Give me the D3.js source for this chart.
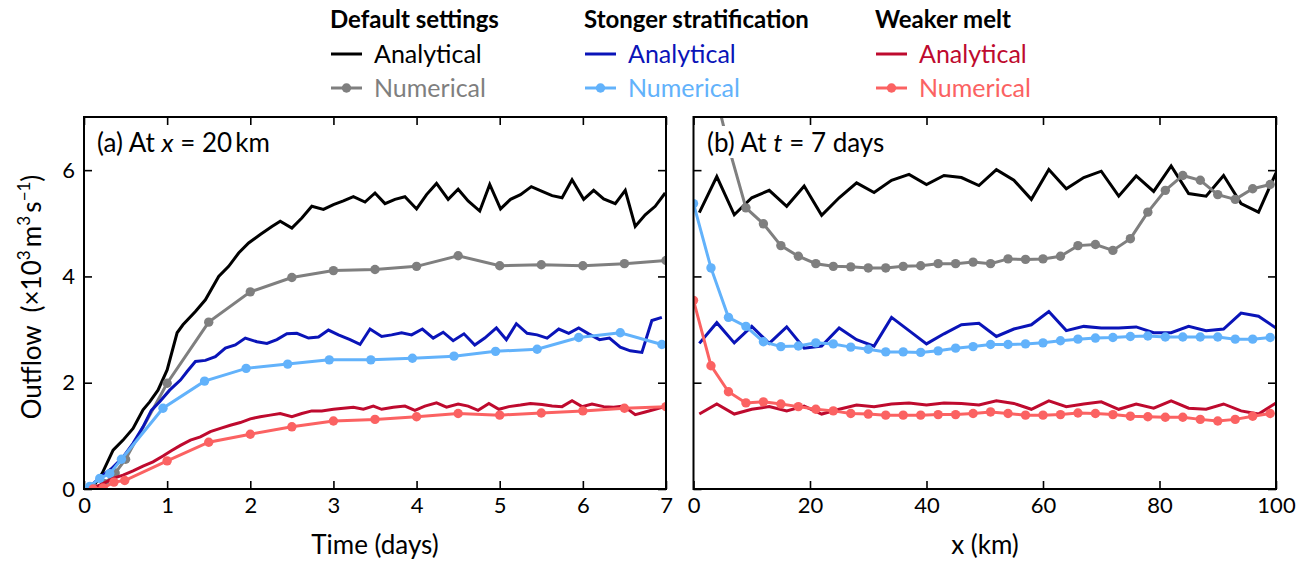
<!DOCTYPE html>
<html lang="en">
<head>
<meta charset="UTF-8">
<title>Outflow</title>
<script src="https://d3js.org/d3.v7.min.js"></script>
<style>
  body { margin: 0; background: #fff; }
  svg { font-family: Lato, "Noto Sans", sans-serif; }
</style>
</head>
<body>
<svg width="1306" height="561"></svg>
<script>
// ---- data: panel (a) at x = 20 km, time in days ----
var blackA = [[0.1,0.02],[0.22,0.3],[0.35,0.73],[0.47,0.92],[0.59,1.14],[0.71,1.49],[0.79,1.64],[0.89,1.86],[1.0,2.24],[1.12,2.94],[1.19,3.09],[1.34,3.34],[1.46,3.56],[1.62,4.0],[1.74,4.19],[1.86,4.44],[1.98,4.63],[2.12,4.79],[2.26,4.94],[2.36,5.04],[2.5,4.91],[2.62,5.1],[2.74,5.32],[2.88,5.26],[3.0,5.35],[3.12,5.42],[3.24,5.5],[3.38,5.4],[3.5,5.57],[3.62,5.37],[3.74,5.45],[3.86,5.5],[4.0,5.27],[4.12,5.54],[4.24,5.75],[4.38,5.45],[4.5,5.64],[4.62,5.42],[4.76,5.23],[4.88,5.73],[5.01,5.27],[5.13,5.45],[5.25,5.54],[5.38,5.69],[5.51,5.6],[5.63,5.52],[5.75,5.48],[5.87,5.82],[6.01,5.45],[6.13,5.62],[6.25,5.46],[6.39,5.37],[6.51,5.62],[6.63,4.94],[6.75,5.16],[6.87,5.32],[6.99,5.57]];
var grayA = [[0.125,0.01],[0.25,0.1],[0.375,0.3],[0.5,0.56],[1,1.99],[1.5,3.14],[2,3.71],[2.5,3.98],[3,4.11],[3.5,4.13],[4,4.19],[4.5,4.39],[5,4.2],[5.5,4.22],[6,4.2],[6.5,4.24],[7,4.3]];
var blueA = [[0.11,0.1],[0.22,0.25],[0.33,0.38],[0.47,0.6],[0.59,0.86],[0.71,1.17],[0.81,1.48],[0.91,1.64],[1.03,1.86],[1.16,2.05],[1.24,2.21],[1.34,2.4],[1.46,2.42],[1.58,2.49],[1.7,2.65],[1.82,2.71],[1.94,2.84],[2.08,2.77],[2.2,2.74],[2.32,2.81],[2.44,2.92],[2.56,2.93],[2.7,2.84],[2.82,2.86],[2.94,2.99],[3.06,2.9],[3.2,2.81],[3.32,2.72],[3.44,3.01],[3.58,2.87],[3.7,2.9],[3.82,2.94],[3.94,2.9],[4.07,3.01],[4.2,2.84],[4.32,2.95],[4.44,2.79],[4.57,2.92],[4.7,2.71],[4.82,2.84],[4.96,3.03],[5.08,2.81],[5.2,3.11],[5.33,2.93],[5.45,2.9],[5.57,2.84],[5.71,3.01],[5.83,2.93],[5.95,3.03],[6.07,2.92],[6.2,2.81],[6.32,2.84],[6.45,2.67],[6.57,2.6],[6.71,2.57],[6.83,3.17],[6.95,3.23]];
var lightBlueA = [[0.07,0.05],[0.19,0.2],[0.31,0.29],[0.45,0.56],[0.95,1.52],[1.45,2.03],[1.95,2.27],[2.45,2.35],[2.95,2.43],[3.45,2.43],[3.95,2.46],[4.45,2.5],[4.95,2.59],[5.45,2.63],[5.95,2.85],[6.45,2.94],[6.95,2.72]];
var redA = [[0.11,0.02],[0.23,0.1],[0.35,0.2],[0.47,0.26],[0.59,0.34],[0.71,0.43],[0.83,0.51],[0.95,0.62],[1.05,0.72],[1.16,0.82],[1.28,0.92],[1.4,0.98],[1.52,1.08],[1.64,1.14],[1.76,1.2],[1.88,1.25],[2.0,1.32],[2.12,1.36],[2.24,1.39],[2.36,1.42],[2.5,1.36],[2.62,1.42],[2.74,1.47],[2.86,1.47],[3.0,1.5],[3.12,1.52],[3.24,1.54],[3.36,1.5],[3.48,1.56],[3.58,1.5],[3.72,1.54],[3.86,1.56],[3.98,1.48],[4.1,1.56],[4.24,1.62],[4.36,1.54],[4.5,1.6],[4.62,1.56],[4.74,1.48],[4.87,1.61],[4.99,1.5],[5.11,1.55],[5.25,1.58],[5.37,1.61],[5.51,1.59],[5.63,1.56],[5.75,1.55],[5.87,1.66],[5.99,1.55],[6.11,1.6],[6.25,1.55],[6.37,1.54],[6.49,1.56],[6.63,1.4],[6.75,1.45],[6.87,1.5],[7.0,1.56]];
var lightRedA = [[0.11,0.0],[0.23,0.02],[0.36,0.13],[0.49,0.16],[1.0,0.53],[1.5,0.88],[2.0,1.03],[2.5,1.17],[3.0,1.28],[3.5,1.31],[4.0,1.36],[4.5,1.42],[5.0,1.39],[5.5,1.43],[6.0,1.47],[6.5,1.52],[7.0,1.55]];

// ---- data: panel (b) at t = 7 days, distance in km ----
var kmAnalytical = [1,4,7,10,13,16,19,22,25,28,31,34,37,40,43,46,49,52,55,58,61,64,67,70,73,76,79,82,85,88,91,94,97,100];
var kmNumerical = [0,3,6,9,12,15,18,21,24,27,30,33,36,39,42,45,48,51,54,57,60,63,66,69,72,75,78,81,84,87,90,93,96,99];
var blackB = [5.2,5.88,5.16,5.48,5.62,5.32,5.7,5.15,5.48,5.76,5.58,5.81,5.92,5.73,5.9,5.86,5.71,6.01,5.81,5.45,6.01,5.65,5.86,5.98,5.51,5.89,5.6,6.08,5.56,5.51,5.9,5.37,5.21,5.95];
var grayB = [9.5,7.8,6.45,5.29,4.99,4.58,4.38,4.24,4.19,4.18,4.16,4.16,4.19,4.2,4.24,4.24,4.27,4.24,4.33,4.32,4.33,4.38,4.58,4.6,4.49,4.71,5.21,5.62,5.9,5.81,5.54,5.45,5.65,5.73];
var blueB = [2.74,3.13,2.75,3.06,2.74,3.05,2.65,2.69,3.03,2.81,2.69,3.23,2.98,2.73,2.92,3.09,3.12,2.87,3.01,3.09,3.34,2.98,3.06,3.03,3.03,3.05,2.94,2.94,3.06,2.98,3.01,3.31,3.25,3.03];
var lightBlueB = [5.37,4.16,3.23,3.06,2.77,2.68,2.69,2.75,2.73,2.67,2.63,2.58,2.58,2.57,2.6,2.65,2.68,2.72,2.72,2.73,2.75,2.79,2.82,2.84,2.85,2.87,2.88,2.86,2.86,2.86,2.86,2.82,2.82,2.85];
var redB = [1.41,1.6,1.41,1.5,1.55,1.47,1.56,1.41,1.5,1.58,1.55,1.6,1.62,1.58,1.62,1.61,1.58,1.66,1.61,1.5,1.66,1.55,1.6,1.64,1.5,1.6,1.52,1.66,1.52,1.5,1.6,1.47,1.41,1.62];
var lightRedB = [3.55,2.32,1.83,1.62,1.64,1.6,1.55,1.5,1.47,1.42,1.41,1.39,1.39,1.39,1.4,1.4,1.42,1.45,1.42,1.39,1.39,1.4,1.43,1.42,1.4,1.37,1.36,1.35,1.35,1.31,1.28,1.31,1.37,1.42];

var groups = ['Default settings', 'Stonger stratification', 'Weaker melt'];
var darkColors = ['#000000', '#0a14b8', '#be0a2e'];
var lightColors = ['#7f7f7f', '#62b2fb', '#fb6262'];
var tickLabelsA = [0, 1, 2, 3, 4, 5, 6, 7];
var tickLabelsB = [0, 20, 40, 60, 80, 100];
var yTicks = [0, 2, 4, 6];

var svg = d3.select('svg');
var top_ = 117, bottom = 489;
var y = d3.scaleLinear().domain([0, 7]).range([bottom, top_]);
var xa = d3.scaleLinear().domain([0, 7]).range([84, 666]);
var xb = d3.scaleLinear().domain([0, 100]).range([693.5, 1276]);

function panel(id, x, ticks, showY) {
    var g = svg.append('g');
    var r = x.range();
    svg.append('clipPath').attr('id', id).append('rect')
        .attr('x', r[0]).attr('y', top_).attr('width', r[1] - r[0]).attr('height', bottom - top_);

    var bot = g.append('g').attr('transform', 'translate(0,' + bottom + ')')
        .call(d3.axisBottom(x).tickValues(ticks).tickSizeInner(-8).tickSizeOuter(0).tickPadding(8)
            .tickFormat(d3.format('d')));
    var tp = g.append('g').attr('transform', 'translate(0,' + top_ + ')')
        .call(d3.axisTop(x).tickValues(ticks).tickSizeInner(-8).tickSizeOuter(0).tickFormat(''));
    var lf = g.append('g').attr('transform', 'translate(' + r[0] + ',0)')
        .call(d3.axisLeft(y).tickValues(yTicks).tickSizeInner(-8).tickSizeOuter(0).tickPadding(9)
            .tickFormat(showY ? d3.format('d') : ''));
    var rt = g.append('g').attr('transform', 'translate(' + r[1] + ',0)')
        .call(d3.axisRight(y).tickValues(yTicks).tickSizeInner(-8).tickSizeOuter(0).tickFormat(''));
    [bot, tp, lf, rt].forEach(function (a) {
        a.select('.domain').remove();
        a.selectAll('line').attr('stroke', '#000').attr('stroke-width', 1.6);
        a.selectAll('text').attr('font-size', 22).attr('fill', '#000').attr('font-family', 'Lato, sans-serif');
    });
    var plot = g.append('g').attr('clip-path', 'url(#' + id + ')');
    return { g: g, plot: plot, x: x };
}

function drawLine(p, pts, color) {
    var line = d3.line().x(function (d) { return p.x(d[0]); }).y(function (d) { return y(d[1]); });
    p.plot.append('path').datum(pts).attr('d', line)
        .attr('fill', 'none').attr('stroke', color).attr('stroke-width', 3)
        .attr('stroke-linejoin', 'miter');
}
function drawNum(p, pts, color) {
    drawLine(p, pts, color);
    p.plot.selectAll(null).data(pts).enter().append('circle')
        .attr('cx', function (d) { return p.x(d[0]); })
        .attr('cy', function (d) { return y(d[1]); })
        .attr('r', 4.7).attr('fill', color);
}
function zip(xs, vs) { return xs.map(function (v, i) { return [v, vs[i]]; }); }

var pa = panel('clipA', xa, tickLabelsA, true);
var pb = panel('clipB', xb, tickLabelsB, false);

drawLine(pa, blackA, darkColors[0]); drawNum(pa, grayA, lightColors[0]);
drawLine(pa, blueA, darkColors[1]); drawNum(pa, lightBlueA, lightColors[1]);
drawLine(pa, redA, darkColors[2]); drawNum(pa, lightRedA, lightColors[2]);

drawLine(pb, zip(kmAnalytical, blackB), darkColors[0]); drawNum(pb, zip(kmNumerical, grayB), lightColors[0]);
drawLine(pb, zip(kmAnalytical, blueB), darkColors[1]); drawNum(pb, zip(kmNumerical, lightBlueB), lightColors[1]);
drawLine(pb, zip(kmAnalytical, redB), darkColors[2]); drawNum(pb, zip(kmNumerical, lightRedB), lightColors[2]);

// frames
[xa, xb].forEach(function (x) {
    var r = x.range();
    svg.append('rect').attr('x', r[0]).attr('y', top_).attr('width', r[1] - r[0]).attr('height', bottom - top_)
        .attr('fill', 'none').attr('stroke', '#000').attr('stroke-width', 2);
});

// panel labels (white box behind, as in the figure)
function panelLabel(x0, parts) {
    var lg = svg.append('g');
    var box = lg.append('rect').attr('fill', '#fff');
    var t = lg.append('text').attr('x', x0).attr('y', 152).attr('font-size', 26).attr('fill', '#000');
    parts.forEach(function (s) {
        t.append('tspan').text(s[0]).attr('font-style', s[1] ? 'italic' : 'normal');
    });
    var bb = t.node().getBBox();
    box.attr('x', bb.x - 3).attr('y', bb.y).attr('width', bb.width + 6).attr('height', bb.height);
}
panelLabel(97, [['(a) At '], ['x', true], [' = 20\u2009km']]);
panelLabel(707, [['(b) At '], ['t', true], [' = 7 days']]);

// axis titles
svg.append('text').attr('x', 375).attr('y', 554).attr('text-anchor', 'middle')
    .attr('font-size', 26).text('Time (days)');
svg.append('text').attr('x', 985).attr('y', 554).attr('text-anchor', 'middle')
    .attr('font-size', 26).text('x (km)');
var yl = svg.append('text').attr('transform', 'translate(41,297) rotate(-90)')
    .attr('text-anchor', 'middle').attr('font-size', 26);
yl.append('tspan').text('Outflow\u00a0\u00a0(\u00d710');
yl.append('tspan').text('3').attr('font-size', 17).attr('dy', -11);
yl.append('tspan').text('\u2009m').attr('dy', 11);
yl.append('tspan').text('3').attr('font-size', 17).attr('dy', -11);
yl.append('tspan').text('\u2009s').attr('dy', 11);
yl.append('tspan').text('\u22121').attr('font-size', 17).attr('dy', -11);
yl.append('tspan').text(')').attr('dy', 11);

// legend
var legX = [330, 584, 875];
groups.forEach(function (name, i) {
    var lg = svg.append('g').attr('transform', 'translate(' + legX[i] + ',0)');
    lg.append('text').attr('x', 0).attr('y', 28).attr('font-size', 24).attr('font-weight', 'bold').text(name);
    lg.append('line').attr('x1', 1).attr('x2', 32).attr('y1', 54).attr('y2', 54)
        .attr('stroke', darkColors[i]).attr('stroke-width', 3);
    lg.append('text').attr('x', 44).attr('y', 63).attr('font-size', 25).attr('fill', darkColors[i]).text('Analytical');
    lg.append('line').attr('x1', 1).attr('x2', 32).attr('y1', 88).attr('y2', 88)
        .attr('stroke', lightColors[i]).attr('stroke-width', 3);
    lg.append('circle').attr('cx', 16.5).attr('cy', 88).attr('r', 4.7).attr('fill', lightColors[i]);
    lg.append('text').attr('x', 44).attr('y', 97).attr('font-size', 25).attr('fill', lightColors[i]).text('Numerical');
});
</script>
</body>
</html>
